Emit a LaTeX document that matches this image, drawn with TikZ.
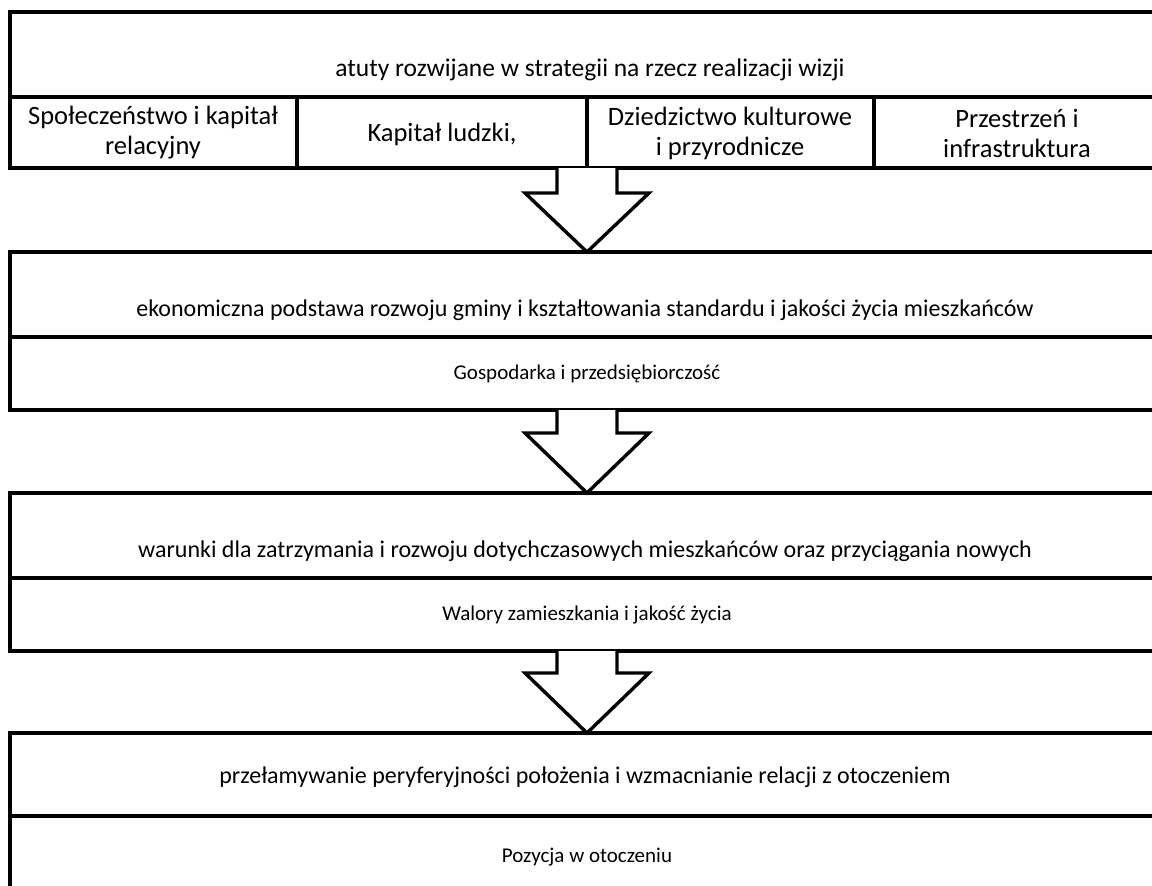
\documentclass[tikz,border=0pt]{standalone}
\usepackage{fontspec}
\setmainfont{Carlito}
\begin{document}
\begin{tikzpicture}[x=1pt,y=-1pt,
  frame/.style={draw=black,line width=3.6pt,line join=miter},
  arrowshape/.style={draw=black,line width=3.4pt,fill=white,line join=miter},
  small/.style={font=\fontsize{24}{28}\selectfont,inner sep=0pt},
  big/.style={font=\fontsize{26.5}{30}\selectfont,inner sep=0pt,align=center},
  title/.style={font=\fontsize{21}{26}\selectfont,inner sep=0pt}]
\useasboundingbox (0,0) rectangle (1152,886);
\clip (0,0) rectangle (1152,886);
\fill[white] (0,0) rectangle (1152,886);
% box 1
\draw[frame] (10,12) rectangle (1161,97);
\draw[frame] (10,97) rectangle (297,168);
\draw[frame] (297,97) rectangle (587,168);
\draw[frame] (587,97) rectangle (874,168);
\draw[frame] (874,97) rectangle (1161,168);
\node[small,font=\fontsize{25.5}{30}\selectfont] (t1) at (590,70) {atuty rozwijane w strategii na rzecz realizacji wizji};
\node[big] (s1) at (153,133) {Społeczeństwo i kapitał\\relacyjny};
\node[big] (s2) at (442,134) {Kapitał ludzki,};
\node[big] (s3) at (730,133) {Dziedzictwo kulturowe\\i przyrodnicze};
\node[big] (s4) at (1017,133) {Przestrzeń i\\infrastruktura};
% arrow 1
\draw[arrowshape] (557,168) -- (557,193) -- (525,193) -- (587,252) -- (649,193) -- (617,193) -- (617,168);
% box 2
\draw[frame] (10,252) rectangle (1161,410);
\draw[frame] (10,337) -- (1161,337);
\node[small] (t2) at (585,310) {ekonomiczna podstawa rozwoju gminy i kształtowania standardu i jakości życia mieszkańców};
\node[title] (b2) at (587,374) {Gospodarka i przedsiębiorczość};
% arrow 2
\draw[arrowshape] (557,410) -- (557,433) -- (525,433) -- (587,493) -- (649,433) -- (617,433) -- (617,410);
% box 3
\draw[frame] (10,493) rectangle (1161,651);
\draw[frame] (10,578) -- (1161,578);
\node[small] (t3) at (585,551) {warunki dla zatrzymania i rozwoju dotychczasowych mieszkańców oraz przyciągania nowych};
\node[title] (b3) at (587,615) {Walory zamieszkania i jakość życia};
% arrow 3
\draw[arrowshape] (557,651) -- (557,673) -- (525,673) -- (587,733) -- (649,673) -- (617,673) -- (617,651);
% box 4
\draw[frame] (10,733) rectangle (1161,910);
\draw[frame] (10,816) -- (1161,816);
\node[small] (t4) at (585,777) {przełamywanie peryferyjności położenia i wzmacnianie relacji z otoczeniem};
\node[title] (b4) at (587,857) {Pozycja w otoczeniu};
\end{tikzpicture}
\end{document}
